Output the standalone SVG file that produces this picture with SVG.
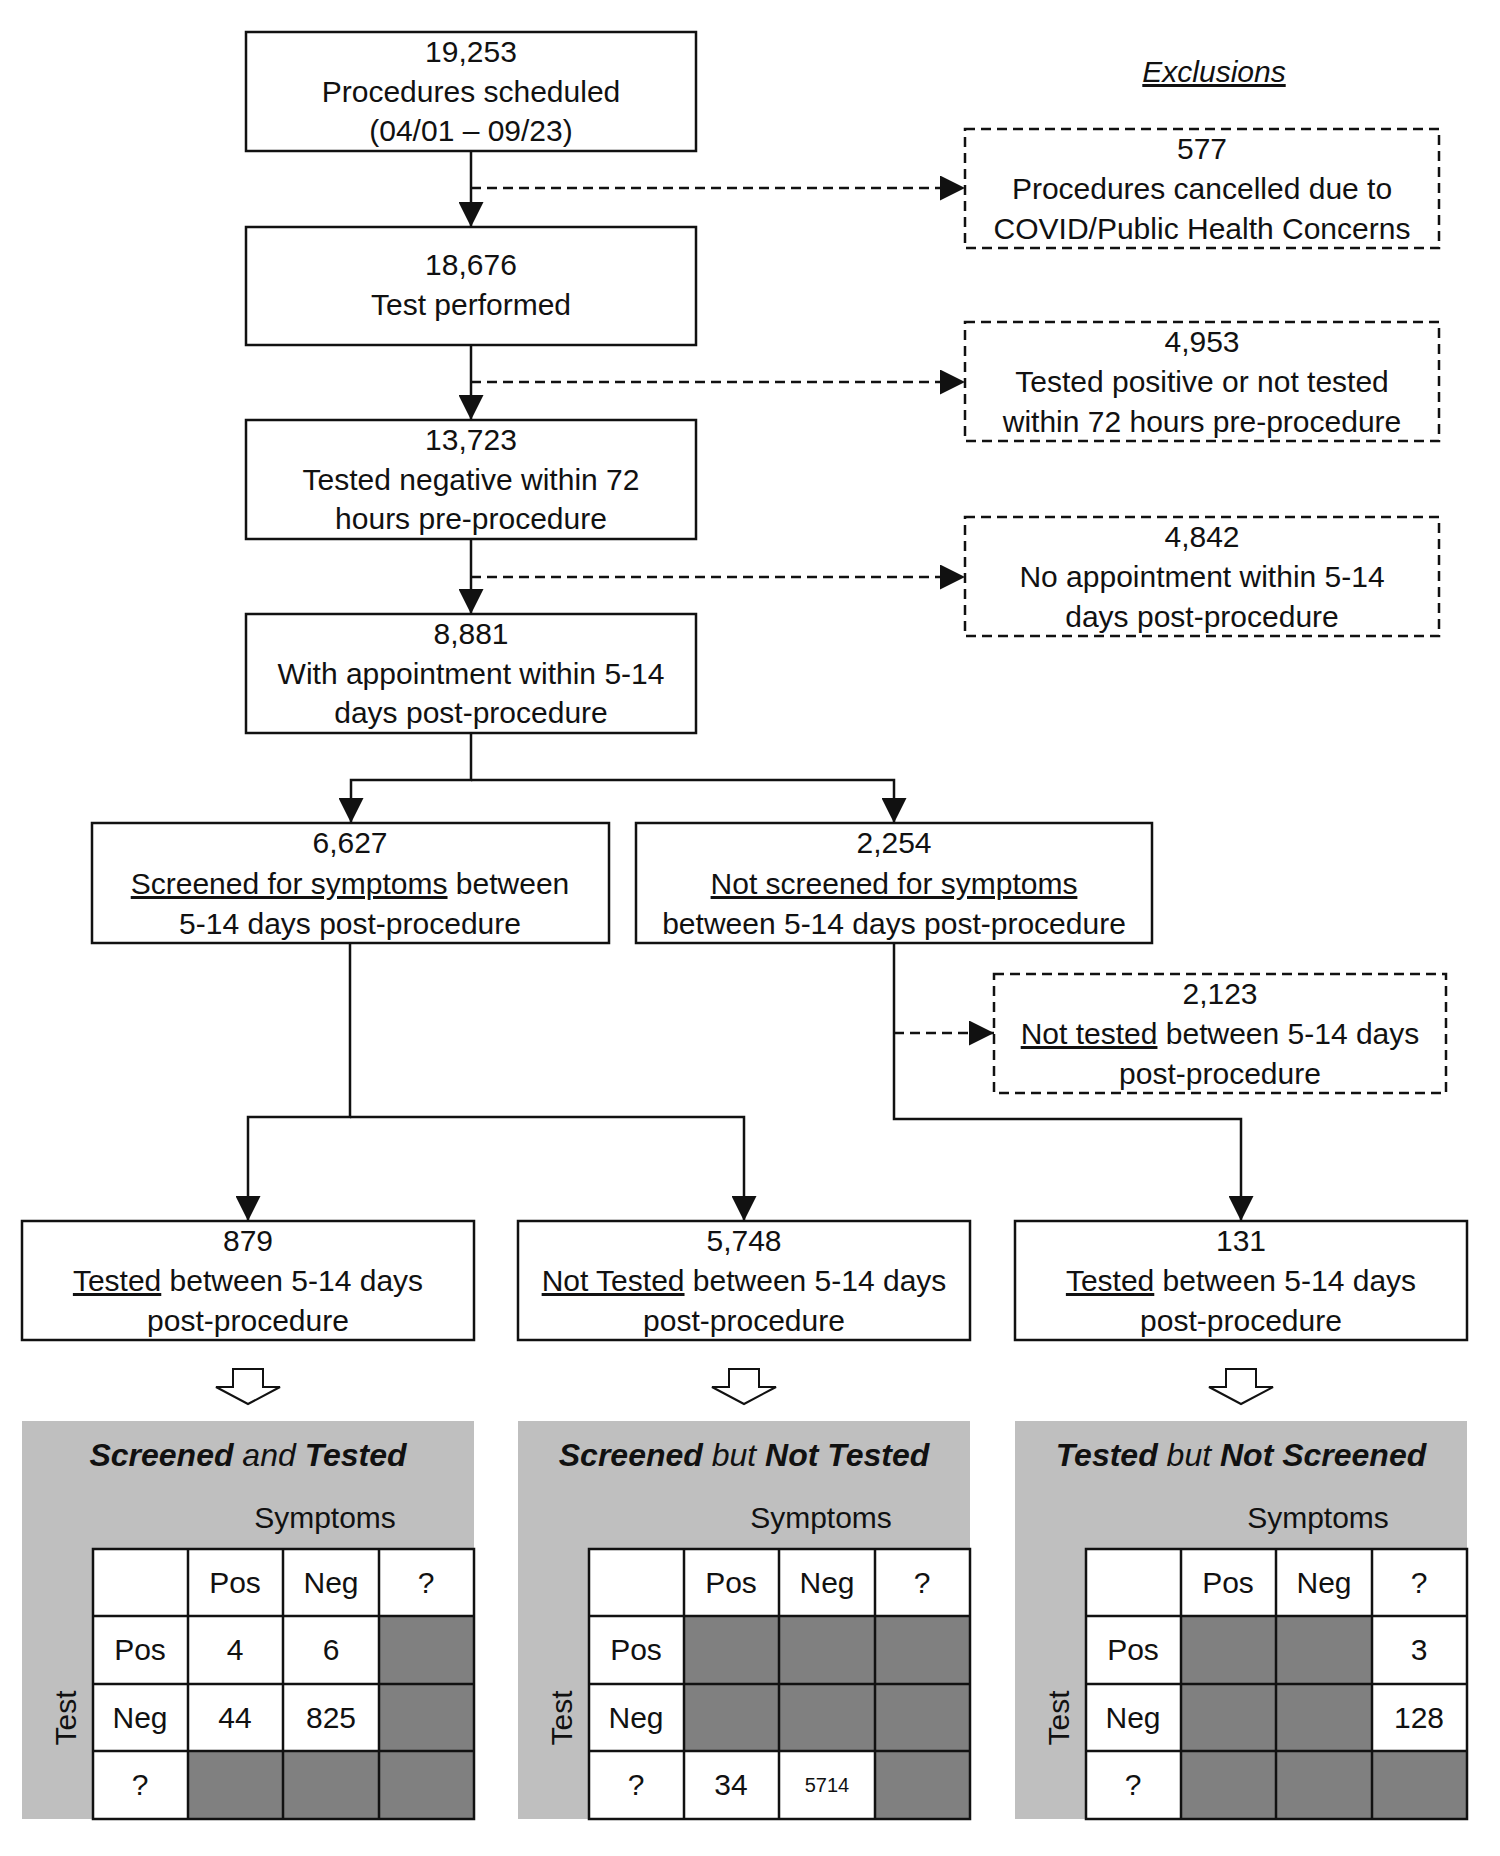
<svg xmlns="http://www.w3.org/2000/svg" width="1500" height="1856" viewBox="0 0 1500 1856">
<defs>
<style>
text{font-family:"Liberation Sans",Arial,sans-serif;font-size:30px;fill:#111;text-anchor:middle}
.box{fill:#fff;stroke:#111;stroke-width:2.5}
.dbox{fill:#fff;stroke:#111;stroke-width:2.5;stroke-dasharray:10 6}
.ln{fill:none;stroke:#111;stroke-width:2.5}
.dl{fill:none;stroke:#111;stroke-width:2.5;stroke-dasharray:10 6}
.u{text-decoration:underline}
.panel{fill:#bfbfbf}
.cell{fill:#fff}
.dark{fill:#808080}
.grid{fill:none;stroke:#111;stroke-width:2.5}
.title{font-size:32px;font-style:italic}
.b{font-weight:bold}
.small{font-size:20px}
.hollow{fill:#fff;stroke:#111;stroke-width:2}
</style>
<marker id="ah" viewBox="0 0 25 25" refX="25" refY="12.5" markerWidth="25" markerHeight="25" markerUnits="userSpaceOnUse" orient="auto">
<path d="M0,0 L25,12.5 L0,25 z" fill="#111"/>
</marker>
</defs>
<rect width="1500" height="1856" fill="#fff"/>

<g id="connectors">
<path class="ln" d="M471,151 V227" marker-end="url(#ah)"/>
<path class="dl" d="M471,188 H965" marker-end="url(#ah)"/>
<path class="ln" d="M471,345 V420" marker-end="url(#ah)"/>
<path class="dl" d="M471,382 H965" marker-end="url(#ah)"/>
<path class="ln" d="M471,539 V614" marker-end="url(#ah)"/>
<path class="dl" d="M471,577 H965" marker-end="url(#ah)"/>
<path class="ln" d="M471,733 V780 H351 V823" marker-end="url(#ah)"/>
<path class="ln" d="M471,780 H894 V823" marker-end="url(#ah)"/>
<path class="ln" d="M350,943 V1117 H248 V1221" marker-end="url(#ah)"/>
<path class="ln" d="M350,1117 H744 V1221" marker-end="url(#ah)"/>
<path class="ln" d="M894,943 V1119 H1241 V1221" marker-end="url(#ah)"/>
<path class="dl" d="M894,1033 H994" marker-end="url(#ah)"/>
<path class="hollow" d="M233,1369 H263 V1387 H280 L248,1404 L216,1387 H233 Z"/>
<path class="hollow" d="M729,1369 H759 V1387 H776 L744,1404 L712,1387 H729 Z"/>
<path class="hollow" d="M1226,1369 H1256 V1387 H1273 L1241,1404 L1209,1387 H1226 Z"/>
</g>

<g id="exclusions-label">
<text x="1214" y="82" font-style="italic" class="u">Exclusions</text>
</g>

<g id="n1">
<rect class="box" x="246" y="32" width="450" height="119"/>
<text x="471" y="62">19,253</text>
<text x="471" y="102">Procedures scheduled</text>
<text x="471" y="141">(04/01 – 09/23)</text>
</g>
<g id="n2">
<rect class="box" x="246" y="227" width="450" height="118"/>
<text x="471" y="275">18,676</text>
<text x="471" y="315">Test performed</text>
</g>
<g id="n3">
<rect class="box" x="246" y="420" width="450" height="119"/>
<text x="471" y="450">13,723</text>
<text x="471" y="490">Tested negative within 72</text>
<text x="471" y="529">hours pre-procedure</text>
</g>
<g id="n4">
<rect class="box" x="246" y="614" width="450" height="119"/>
<text x="471" y="644">8,881</text>
<text x="471" y="684">With appointment within 5-14</text>
<text x="471" y="723">days post-procedure</text>
</g>
<g id="e1">
<rect class="dbox" x="965" y="129" width="474" height="119"/>
<text x="1202" y="159">577</text>
<text x="1202" y="199">Procedures cancelled due to</text>
<text x="1202" y="239">COVID/Public Health Concerns</text>
</g>
<g id="e2">
<rect class="dbox" x="965" y="322" width="474" height="119"/>
<text x="1202" y="352">4,953</text>
<text x="1202" y="392">Tested positive or not tested</text>
<text x="1202" y="432">within 72 hours pre-procedure</text>
</g>
<g id="e3">
<rect class="dbox" x="965" y="517" width="474" height="119"/>
<text x="1202" y="547">4,842</text>
<text x="1202" y="587">No appointment within 5-14</text>
<text x="1202" y="627">days post-procedure</text>
</g>
<g id="n5">
<rect class="box" x="92" y="823" width="517" height="120"/>
<text x="350" y="853">6,627</text>
<text x="350" y="894"><tspan class="u">Screened for symptoms</tspan> between</text>
<text x="350" y="934">5-14 days post-procedure</text>
</g>
<g id="n6">
<rect class="box" x="636" y="823" width="516" height="120"/>
<text x="894" y="853">2,254</text>
<text x="894" y="894"><tspan class="u">Not screened for symptoms</tspan></text>
<text x="894" y="934">between 5-14 days post-procedure</text>
</g>
<g id="e4">
<rect class="dbox" x="994" y="974" width="452" height="119"/>
<text x="1220" y="1004">2,123</text>
<text x="1220" y="1044"><tspan class="u">Not tested</tspan> between 5-14 days</text>
<text x="1220" y="1084">post-procedure</text>
</g>
<g id="n7">
<rect class="box" x="22" y="1221" width="452" height="119"/>
<text x="248" y="1251">879</text>
<text x="248" y="1291"><tspan class="u">Tested</tspan> between 5-14 days</text>
<text x="248" y="1331">post-procedure</text>
</g>
<g id="n8">
<rect class="box" x="518" y="1221" width="452" height="119"/>
<text x="744" y="1251">5,748</text>
<text x="744" y="1291"><tspan class="u">Not Tested</tspan> between 5-14 days</text>
<text x="744" y="1331">post-procedure</text>
</g>
<g id="n9">
<rect class="box" x="1015" y="1221" width="452" height="119"/>
<text x="1241" y="1251">131</text>
<text x="1241" y="1291"><tspan class="u">Tested</tspan> between 5-14 days</text>
<text x="1241" y="1331">post-procedure</text>
</g>

<g id="panel1" transform="translate(22,0)">
<rect class="panel" x="0" y="1421" width="452" height="398"/>
<text class="title" x="226" y="1466"><tspan class="b">Screened</tspan> and <tspan class="b">Tested</tspan></text>
<text x="303" y="1528">Symptoms</text>
<text x="54" y="1718" transform="rotate(-90 54 1718)">Test</text>
<rect class="cell" x="71" y="1549" width="381" height="270"/>
<rect class="dark" x="357" y="1616" width="95" height="135"/>
<rect class="dark" x="166" y="1751" width="286" height="68"/>
<path class="grid" d="M71,1549 H452 V1819 H71 Z M166,1549 V1819 M261,1549 V1819 M357,1549 V1819 M71,1616 H452 M71,1684 H452 M71,1751 H452"/>
<text x="213" y="1593">Pos</text><text x="309" y="1593">Neg</text><text x="404" y="1593">?</text>
<text x="118" y="1660">Pos</text><text x="213" y="1660">4</text><text x="309" y="1660">6</text>
<text x="118" y="1728">Neg</text><text x="213" y="1728">44</text><text x="309" y="1728">825</text>
<text x="118" y="1795">?</text>
</g>

<g id="panel2" transform="translate(518,0)">
<rect class="panel" x="0" y="1421" width="452" height="398"/>
<text class="title" x="226" y="1466"><tspan class="b">Screened</tspan> but <tspan class="b">Not Tested</tspan></text>
<text x="303" y="1528">Symptoms</text>
<text x="54" y="1718" transform="rotate(-90 54 1718)">Test</text>
<rect class="cell" x="71" y="1549" width="381" height="270"/>
<rect class="dark" x="166" y="1616" width="286" height="135"/>
<rect class="dark" x="357" y="1751" width="95" height="68"/>
<path class="grid" d="M71,1549 H452 V1819 H71 Z M166,1549 V1819 M261,1549 V1819 M357,1549 V1819 M71,1616 H452 M71,1684 H452 M71,1751 H452"/>
<text x="213" y="1593">Pos</text><text x="309" y="1593">Neg</text><text x="404" y="1593">?</text>
<text x="118" y="1660">Pos</text>
<text x="118" y="1728">Neg</text>
<text x="118" y="1795">?</text><text x="213" y="1795">34</text><text class="small" x="309" y="1792">5714</text>
</g>

<g id="panel3" transform="translate(1015,0)">
<rect class="panel" x="0" y="1421" width="452" height="398"/>
<text class="title" x="226" y="1466"><tspan class="b">Tested</tspan> but <tspan class="b">Not Screened</tspan></text>
<text x="303" y="1528">Symptoms</text>
<text x="54" y="1718" transform="rotate(-90 54 1718)">Test</text>
<rect class="cell" x="71" y="1549" width="381" height="270"/>
<rect class="dark" x="166" y="1616" width="191" height="203"/>
<rect class="dark" x="357" y="1751" width="95" height="68"/>
<path class="grid" d="M71,1549 H452 V1819 H71 Z M166,1549 V1819 M261,1549 V1819 M357,1549 V1819 M71,1616 H452 M71,1684 H452 M71,1751 H452"/>
<text x="213" y="1593">Pos</text><text x="309" y="1593">Neg</text><text x="404" y="1593">?</text>
<text x="118" y="1660">Pos</text><text x="404" y="1660">3</text>
<text x="118" y="1728">Neg</text><text x="404" y="1728">128</text>
<text x="118" y="1795">?</text>
</g>
</svg>
